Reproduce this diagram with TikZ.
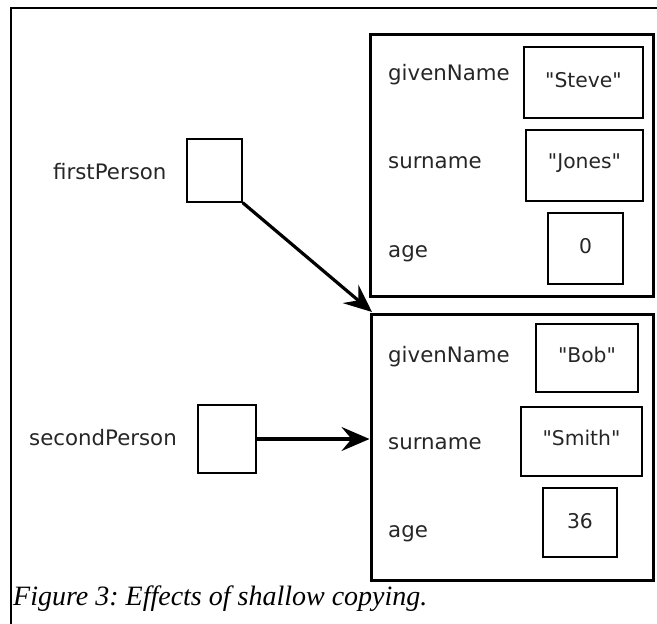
\documentclass[tikz,border=0pt]{standalone}
\usepackage{fontspec}
\setmainfont{DejaVu Sans}[Ligatures=TeXOff]
\newfontfamily\capfont{Liberation Serif}
\usetikzlibrary{arrows.meta}
\begin{document}
\begin{tikzpicture}[x=1pt,y=-1pt,
  objbox/.style={draw,line width=3pt,minimum width=#1,inner sep=0pt},
  valbox/.style={draw,line width=1.4pt,inner sep=0pt},
  lbl/.style={anchor=base west,inner sep=0pt,font=\fontsize{21.3}{24}\selectfont,text=black!85},
  val/.style={anchor=base,inner sep=0pt,font=\fontsize{20.3}{24}\selectfont,text=black!85},
  ptr/.style={line width=3.2pt,-{Stealth[length=28pt,width=24pt,inset=10pt]}}]
\useasboundingbox (0,0) rectangle (657,624);
% outer frame (partial)
\draw[line width=1.5pt] (11,624) -- (11,8) -- (657,8);
% object boxes
\node[objbox=283pt,minimum height=262pt] (obj1) at (511.5,165) {};
\node[objbox=282pt,minimum height=266pt] (obj2) at (512,447) {};
% value boxes object 1
\node[valbox,minimum width=119pt,minimum height=71pt] (steve) at (583.5,82.5) {};
\node[valbox,minimum width=117pt,minimum height=71pt] (jones) at (584.5,165.5) {};
\node[valbox,minimum width=75pt,minimum height=71pt] (zero) at (585.5,248.5) {};
% value boxes object 2
\node[valbox,minimum width=102pt,minimum height=68pt] (bob) at (587,358) {};
\node[valbox,minimum width=121pt,minimum height=69pt] (smith) at (581.5,441.5) {};
\node[valbox,minimum width=74pt,minimum height=69pt] (thirtysix) at (580,522.5) {};
% values
\node[val] (steveT) at (583.5,87) {"Steve"};
\node[val] (jonesT) at (584.5,168) {"Jones"};
\node[val] (zeroT) at (585.5,253) {0};
\node[val] (bobT) at (587,362) {"Bob"};
\node[val] (smithT) at (581.5,445) {"Smith"};
\node[val] (thirtysixT) at (580,528) {36};
% field labels
\node[lbl] (g1) at (388,80) {givenName};
\node[lbl] (s1) at (388,168) {surname};
\node[lbl] (a1) at (388,257) {age};
\node[lbl] (g2) at (388,362) {givenName};
\node[lbl] (s2) at (388,449) {surname};
\node[lbl] (a2) at (388,537) {age};
% variables
\node[lbl] (fpT) at (53,179) {firstPerson};
\node[lbl] (spT) at (29,445) {secondPerson};
\node[valbox,minimum width=55pt,minimum height=63pt] (fp) at (214.5,170.5) {};
\node[valbox,minimum width=58pt,minimum height=68pt] (sp) at (227,439) {};
% pointers
\coordinate (c2) at (372,312);
\draw[ptr] (fp.south east) -- (c2);
\draw[ptr] (sp.east) -- (sp.east -| obj2.west);
% caption
\node[anchor=base west,inner sep=0pt,font=\capfont\itshape\fontsize{28}{32}\selectfont\frenchspacing] (cap) at (13,605) {Figure 3: Effects of shallow copying.};
\end{tikzpicture}
\end{document}
